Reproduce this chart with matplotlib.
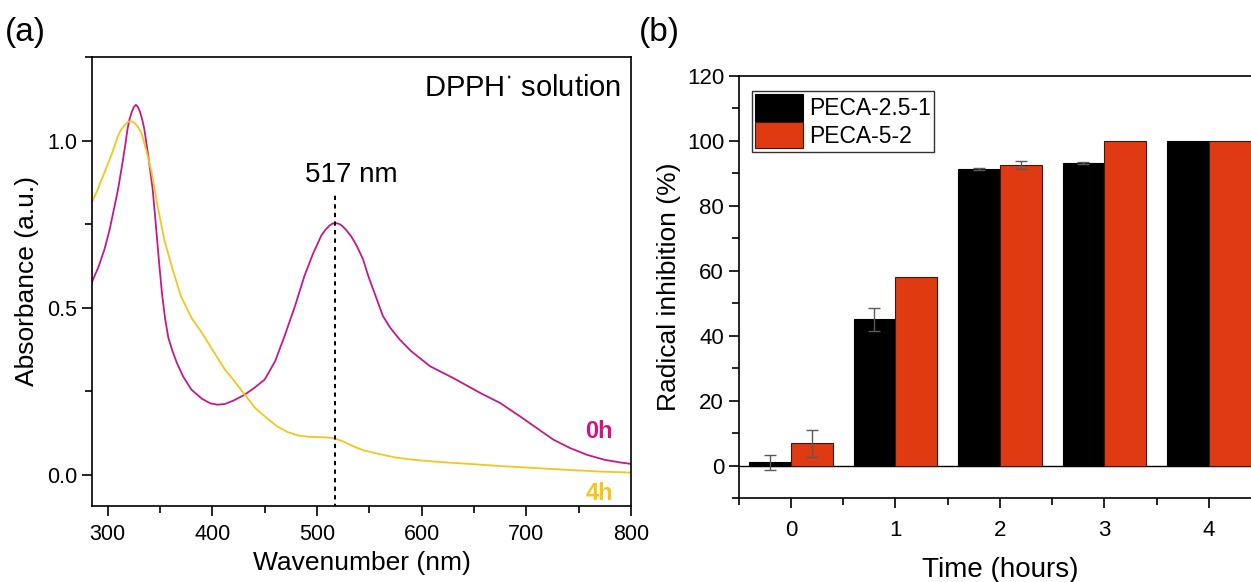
import matplotlib
matplotlib.use("Agg")
import matplotlib.pyplot as plt
from matplotlib.ticker import MultipleLocator
import numpy as np

plt.rcParams['font.family'] = ['Liberation Sans', 'DejaVu Sans']

# UV-vis spectra of DPPH solution
wl_0h = [285, 291, 297, 302, 306, 310, 314, 317, 319, 321, 323, 325, 327, 329,
         331, 333, 335, 339, 343, 346, 349, 352, 355, 358, 362, 366, 372, 380,
         390, 398, 405, 412, 420, 431, 440, 450, 460, 469, 479, 488, 496, 504,
         508, 512, 515, 518, 521, 524, 528, 533, 538, 544, 549, 556, 563, 570,
         579, 590, 608, 630, 656, 675, 694, 710, 726, 742, 758, 775, 790, 800]
abs_0h = [0.577, 0.62, 0.675, 0.735, 0.795, 0.855, 0.93, 0.99, 1.035, 1.065,
          1.085, 1.1, 1.107, 1.1, 1.085, 1.063, 1.035, 0.95, 0.855, 0.75,
          0.64, 0.54, 0.465, 0.41, 0.37, 0.336, 0.295, 0.255, 0.228, 0.214,
          0.21, 0.212, 0.222, 0.24, 0.26, 0.285, 0.34, 0.415, 0.505, 0.595,
          0.66, 0.715, 0.733, 0.746, 0.752, 0.753, 0.751, 0.745, 0.732, 0.712,
          0.685, 0.645, 0.595, 0.535, 0.475, 0.44, 0.405, 0.37, 0.325, 0.29,
          0.245, 0.215, 0.175, 0.14, 0.105, 0.08, 0.06, 0.045, 0.037, 0.033]

wl_4h = [285, 290, 297, 304, 310, 313, 316, 319, 322, 325, 328, 332, 337, 342,
         348, 354, 362, 370, 380, 390, 400, 412, 420, 431, 441, 452, 462, 472,
         482, 492, 502, 510, 517, 525, 535, 545, 560, 575, 593, 620, 650, 672,
         700, 740, 770, 800]
abs_4h = [0.815, 0.85, 0.905, 0.96, 1.015, 1.033, 1.045, 1.055, 1.058, 1.054,
          1.045, 1.025, 0.97, 0.905, 0.8, 0.705, 0.615, 0.535, 0.47, 0.425,
          0.375, 0.315, 0.285, 0.24, 0.2, 0.17, 0.145, 0.128, 0.118, 0.114,
          0.113, 0.112, 0.109, 0.1, 0.085, 0.073, 0.062, 0.052, 0.045, 0.038,
          0.032, 0.027, 0.022, 0.015, 0.01, 0.007]

peak_nm = 517

# radical scavenging over time
hours = [0, 1, 2, 3, 4]
inhib_a = [1.0, 45.0, 91.4, 93.3, 100.0]
err_a = [2.35, 3.5, 0.3, 0.3, 0.0]
inhib_b = [6.9, 58.0, 92.6, 100.0, 100.0]
err_b = [4.2, 0.0, 1.2, 0.0, 0.0]
names = ['PECA-2.5-1', 'PECA-5-2']

magenta = '#C4198A'
yellow = '#F4C61C'
red = '#E03A12'

fig = plt.figure(figsize=(12.51, 5.82), dpi=100)

# ---- (a) spectra ----
ax1 = fig.add_axes([0.0735, 0.1306, 0.4309, 0.7715])
ax1.plot(wl_0h, abs_0h, color=magenta, lw=1.3)
ax1.plot(wl_4h, abs_4h, color=yellow, lw=1.3)
ax1.plot([peak_nm, peak_nm], [-0.1, 0.845], color='black', lw=1.4,
         linestyle=(0, (2.2, 2.2)))
ax1.text(533, 0.875, '%d nm' % peak_nm, fontsize=20, ha='center', va='baseline')
ax1.text(790, 1.133, r'DPPH$^{\cdot}$ solution', fontsize=21, ha='right',
         va='baseline')
ax1.text(783, 0.11, '0h', color='#D0157F', fontsize=17, fontweight='bold',
         ha='right', va='baseline')
ax1.text(783, -0.075, '4h', color=yellow, fontsize=17, fontweight='bold',
         ha='right', va='baseline')
ax1.set_xlim(285, 800)
ax1.set_ylim(-0.093, 1.25)
ax1.xaxis.set_major_locator(MultipleLocator(100))
ax1.xaxis.set_minor_locator(MultipleLocator(50))
ax1.yaxis.set_major_locator(MultipleLocator(0.5))
ax1.yaxis.set_minor_locator(MultipleLocator(0.25))
ax1.yaxis.set_major_formatter(plt.FuncFormatter(lambda v, p: '%.1f' % v))
ax1.set_xlabel('Wavenumber (nm)', fontsize=19, labelpad=4)
ax1.set_ylabel('Absorbance (a.u.)', fontsize=19, labelpad=6)

# ---- (b) bars ----
ax2 = fig.add_axes([0.5904, 0.1443, 0.4177, 0.7251])
x = np.arange(len(hours))
w = 0.4
ax2.axhline(0, color='black', lw=1.0, zorder=1)
ax2.bar(x - w / 2, inhib_a, w, color='black', edgecolor='black', lw=0.8,
        label=names[0], zorder=2)
ax2.bar(x + w / 2, inhib_b, w, color=red, edgecolor='#3a1a10', lw=0.8,
        label=names[1], zorder=2)
# only the points that carry a spread get an error bar
for off, vals, errs in ((-w / 2, inhib_a, err_a), (w / 2, inhib_b, err_b)):
    idx = [i for i, e in enumerate(errs) if e > 0]
    ax2.errorbar(x[idx] + off, [vals[i] for i in idx],
                 yerr=[errs[i] for i in idx], fmt='none', ecolor='#5a5a5a',
                 elinewidth=1.0, capsize=4, capthick=1.0, zorder=3)
ax2.set_xlim(-0.5, 4.5)
ax2.set_ylim(-10, 120)
ax2.set_xticks(x)
ax2.xaxis.set_minor_locator(MultipleLocator(0.5))
ax2.yaxis.set_major_locator(MultipleLocator(20))
ax2.yaxis.set_minor_locator(MultipleLocator(10))
ax2.set_xlabel('Time (hours)', fontsize=20, labelpad=11)
ax2.set_ylabel('Radical inhibition (%)', fontsize=19, labelpad=4)
leg = ax2.legend(loc='upper left', bbox_to_anchor=(0.025, 0.965), fontsize=16.5,
                 frameon=True, fancybox=False, edgecolor='black',
                 handlelength=2.1, handleheight=1.4, handletextpad=0.25,
                 borderpad=0.15, labelspacing=0.05, borderaxespad=0)
leg.get_frame().set_linewidth(1.0)

for ax, size in ((ax1, 15.5), (ax2, 16)):
    for s in ax.spines.values():
        s.set_linewidth(1.2)
    ax.tick_params(which='both', direction='out', top=False, right=False,
                   width=1.2, labelsize=size)
    ax.tick_params(which='major', length=7)
    ax.tick_params(which='minor', length=5)
ax1.tick_params(axis='x', pad=6)
ax2.tick_params(axis='x', pad=9)

fig.text(0.004, 0.93, '(a)', fontsize=24, va='baseline')
fig.text(0.511, 0.93, '(b)', fontsize=24, va='baseline')

fig.savefig('out.png', dpi=100)
